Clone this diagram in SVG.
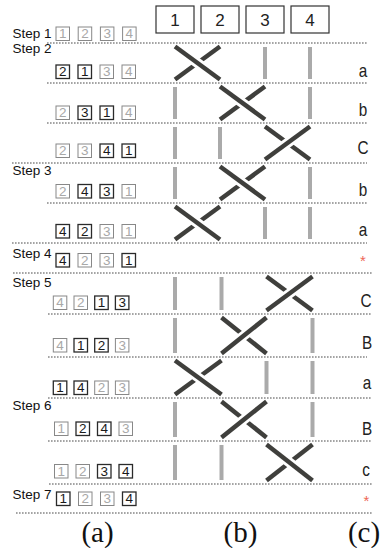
<svg xmlns="http://www.w3.org/2000/svg" width="385" height="548" viewBox="0 0 385 548">
<style>
text{font-family:"Liberation Sans",Arial,sans-serif}
.sep{stroke:#4a4a4a;stroke-width:1;stroke-dasharray:1.6 1.4;fill:none}
.hb{fill:#fff;stroke:#333;stroke-width:1.2}
.ht{font-size:17px;fill:#222;text-anchor:middle}
.step{font-size:13.5px;fill:#111}
.bk rect{fill:#fff;stroke:#2a2a2a;stroke-width:1.3}
.gy rect{fill:#fff;stroke:#888;stroke-width:1}
.bk text{fill:#1a1a1a}
.gy text{fill:#a8a8a8}
.seq text{font-size:13.5px;text-anchor:middle}
.g{stroke:#aaa;stroke-width:4;fill:none}
.d{stroke:#3f3f3c;stroke-width:4.5;fill:none}
.h{stroke:#fff;stroke-width:10;fill:none}
.lab{font-size:18px;fill:#222;text-anchor:middle}
.ast{font-size:15px;fill:#ee6655;text-anchor:middle}
.cap{font-family:"Liberation Serif","Times New Roman",serif;font-size:29px;fill:#111;text-anchor:middle}
</style>

<g id="separators">
<line class="sep" x1="47" y1="43" x2="367" y2="43"/>
<line class="sep" x1="47" y1="83" x2="367" y2="83"/>
<line class="sep" x1="47" y1="123" x2="367" y2="123"/>
<line class="sep" x1="12" y1="163" x2="367" y2="163"/>
<line class="sep" x1="47" y1="203" x2="367" y2="203"/>
<line class="sep" x1="12" y1="243" x2="367" y2="243"/>
<line class="sep" x1="13" y1="273" x2="372" y2="273"/>
<line class="sep" x1="48" y1="314" x2="372" y2="314"/>
<line class="sep" x1="48" y1="357" x2="367" y2="357"/>
<line class="sep" x1="48" y1="398" x2="372" y2="398"/>
<line class="sep" x1="48" y1="441" x2="372" y2="441"/>
<line class="sep" x1="49" y1="484" x2="372" y2="484"/>
<line class="sep" x1="16" y1="513" x2="373" y2="513"/>
</g>

<g id="header">
<g id="col1"><rect class="hb" x="156" y="6" width="38" height="27"/><text class="ht" x="175" y="26">1</text></g>
<g id="col2"><rect class="hb" x="201" y="6" width="38" height="27"/><text class="ht" x="220" y="26">2</text></g>
<g id="col3"><rect class="hb" x="246" y="6" width="38" height="27"/><text class="ht" x="265" y="26">3</text></g>
<g id="col4"><rect class="hb" x="291" y="6" width="38" height="27"/><text class="ht" x="310" y="26">4</text></g>
</g>

<g id="steps">
<text class="step" x="12.5" y="37.5">Step 1</text>
<text class="step" x="12.5" y="53">Step 2</text>
<text class="step" x="12.5" y="174.5">Step 3</text>
<text class="step" x="12.5" y="258">Step 4</text>
<text class="step" x="12.5" y="286.5">Step 5</text>
<text class="step" x="12.5" y="410">Step 6</text>
<text class="step" x="12.5" y="498.5">Step 7</text>
</g>

<g id="sequences" class="seq">
<g id="seq0" transform="translate(56,27)">
<g class="gy"><rect width="13.5" height="13.5"/><text x="6.75" y="11.2">1</text></g>
<g class="gy" transform="translate(22.2,0)"><rect width="13.5" height="13.5"/><text x="6.75" y="11.2">2</text></g>
<g class="gy" transform="translate(44.4,0)"><rect width="13.5" height="13.5"/><text x="6.75" y="11.2">3</text></g>
<g class="gy" transform="translate(66.6,0)"><rect width="13.5" height="13.5"/><text x="6.75" y="11.2">4</text></g>
</g>
<g id="seq1" transform="translate(56,65)">
<g class="bk"><rect width="13.5" height="13.5"/><text x="6.75" y="11.2">2</text></g>
<g class="bk" transform="translate(22,0)"><rect width="13.5" height="13.5"/><text x="6.75" y="11.2">1</text></g>
<g class="gy" transform="translate(44,0)"><rect width="13.5" height="13.5"/><text x="6.75" y="11.2">3</text></g>
<g class="gy" transform="translate(66,0)"><rect width="13.5" height="13.5"/><text x="6.75" y="11.2">4</text></g>
</g>
<g id="seq2" transform="translate(56,106)">
<g class="gy"><rect width="13.5" height="13.5"/><text x="6.75" y="11.2">2</text></g>
<g class="bk" transform="translate(22,0)"><rect width="13.5" height="13.5"/><text x="6.75" y="11.2">3</text></g>
<g class="bk" transform="translate(44,0)"><rect width="13.5" height="13.5"/><text x="6.75" y="11.2">1</text></g>
<g class="gy" transform="translate(66,0)"><rect width="13.5" height="13.5"/><text x="6.75" y="11.2">4</text></g>
</g>
<g id="seq3" transform="translate(56,144)">
<g class="gy"><rect width="13.5" height="13.5"/><text x="6.75" y="11.2">2</text></g>
<g class="gy" transform="translate(22,0)"><rect width="13.5" height="13.5"/><text x="6.75" y="11.2">3</text></g>
<g class="bk" transform="translate(44,0)"><rect width="13.5" height="13.5"/><text x="6.75" y="11.2">4</text></g>
<g class="bk" transform="translate(66,0)"><rect width="13.5" height="13.5"/><text x="6.75" y="11.2">1</text></g>
</g>
<g id="seq4" transform="translate(56,184.5)">
<g class="gy"><rect width="13.5" height="13.5"/><text x="6.75" y="11.2">2</text></g>
<g class="bk" transform="translate(22,0)"><rect width="13.5" height="13.5"/><text x="6.75" y="11.2">4</text></g>
<g class="bk" transform="translate(44,0)"><rect width="13.5" height="13.5"/><text x="6.75" y="11.2">3</text></g>
<g class="gy" transform="translate(66,0)"><rect width="13.5" height="13.5"/><text x="6.75" y="11.2">1</text></g>
</g>
<g id="seq5" transform="translate(56,224.5)">
<g class="bk"><rect width="13.5" height="13.5"/><text x="6.75" y="11.2">4</text></g>
<g class="bk" transform="translate(22,0)"><rect width="13.5" height="13.5"/><text x="6.75" y="11.2">2</text></g>
<g class="gy" transform="translate(44,0)"><rect width="13.5" height="13.5"/><text x="6.75" y="11.2">3</text></g>
<g class="gy" transform="translate(66,0)"><rect width="13.5" height="13.5"/><text x="6.75" y="11.2">1</text></g>
</g>
<g id="seq6" transform="translate(56,253.5)">
<g class="bk"><rect width="13.5" height="13.5"/><text x="6.75" y="11.2">4</text></g>
<g class="gy" transform="translate(22,0)"><rect width="13.5" height="13.5"/><text x="6.75" y="11.2">2</text></g>
<g class="gy" transform="translate(44,0)"><rect width="13.5" height="13.5"/><text x="6.75" y="11.2">3</text></g>
<g class="bk" transform="translate(66,0)"><rect width="13.5" height="13.5"/><text x="6.75" y="11.2">1</text></g>
</g>
<g id="seq7" transform="translate(53.3,296)">
<g class="gy"><rect width="13.5" height="13.5"/><text x="6.75" y="11.2">4</text></g>
<g class="gy" transform="translate(20.7,0)"><rect width="13.5" height="13.5"/><text x="6.75" y="11.2">2</text></g>
<g class="bk" transform="translate(41.4,0)"><rect width="13.5" height="13.5"/><text x="6.75" y="11.2">1</text></g>
<g class="bk" transform="translate(62.1,0)"><rect width="13.5" height="13.5"/><text x="6.75" y="11.2">3</text></g>
</g>
<g id="seq8" transform="translate(53.3,338.5)">
<g class="gy"><rect width="13.5" height="13.5"/><text x="6.75" y="11.2">4</text></g>
<g class="bk" transform="translate(20.7,0)"><rect width="13.5" height="13.5"/><text x="6.75" y="11.2">1</text></g>
<g class="bk" transform="translate(41.4,0)"><rect width="13.5" height="13.5"/><text x="6.75" y="11.2">2</text></g>
<g class="gy" transform="translate(62.1,0)"><rect width="13.5" height="13.5"/><text x="6.75" y="11.2">3</text></g>
</g>
<g id="seq9" transform="translate(53.3,381)">
<g class="bk"><rect width="13.5" height="13.5"/><text x="6.75" y="11.2">1</text></g>
<g class="bk" transform="translate(20.7,0)"><rect width="13.5" height="13.5"/><text x="6.75" y="11.2">4</text></g>
<g class="gy" transform="translate(41.4,0)"><rect width="13.5" height="13.5"/><text x="6.75" y="11.2">2</text></g>
<g class="gy" transform="translate(62.1,0)"><rect width="13.5" height="13.5"/><text x="6.75" y="11.2">3</text></g>
</g>
<g id="seq10" transform="translate(54.5,422)">
<g class="gy"><rect width="13.5" height="13.5"/><text x="6.75" y="11.2">1</text></g>
<g class="bk" transform="translate(21.5,0)"><rect width="13.5" height="13.5"/><text x="6.75" y="11.2">2</text></g>
<g class="bk" transform="translate(43,0)"><rect width="13.5" height="13.5"/><text x="6.75" y="11.2">4</text></g>
<g class="gy" transform="translate(64.5,0)"><rect width="13.5" height="13.5"/><text x="6.75" y="11.2">3</text></g>
</g>
<g id="seq11" transform="translate(54.5,464.5)">
<g class="gy"><rect width="13.5" height="13.5"/><text x="6.75" y="11.2">1</text></g>
<g class="gy" transform="translate(21.5,0)"><rect width="13.5" height="13.5"/><text x="6.75" y="11.2">2</text></g>
<g class="bk" transform="translate(43,0)"><rect width="13.5" height="13.5"/><text x="6.75" y="11.2">3</text></g>
<g class="bk" transform="translate(64.5,0)"><rect width="13.5" height="13.5"/><text x="6.75" y="11.2">4</text></g>
</g>
<g id="seq12" transform="translate(56.5,492)">
<g class="bk"><rect width="13.5" height="13.5"/><text x="6.75" y="11.2">1</text></g>
<g class="gy" transform="translate(22,0)"><rect width="13.5" height="13.5"/><text x="6.75" y="11.2">2</text></g>
<g class="gy" transform="translate(44,0)"><rect width="13.5" height="13.5"/><text x="6.75" y="11.2">3</text></g>
<g class="bk" transform="translate(66,0)"><rect width="13.5" height="13.5"/><text x="6.75" y="11.2">4</text></g>
</g>
</g>

<g id="connectors">
<g id="swap1">
<line class="g" x1="265" y1="47" x2="265" y2="79"/><line class="g" x1="310" y1="47" x2="310" y2="79"/>
<line class="d" x1="175" y1="79.5" x2="220" y2="46.5"/>
<line class="h" x1="188.5" y1="56.4" x2="206.5" y2="69.6"/>
<line class="d" x1="175" y1="46.5" x2="220" y2="79.5"/>
</g>
<g id="swap2">
<line class="g" x1="175" y1="87" x2="175" y2="119"/><line class="g" x1="310" y1="87" x2="310" y2="119"/>
<line class="d" x1="220" y1="119.5" x2="265" y2="86.5"/>
<line class="h" x1="233.5" y1="96.4" x2="251.5" y2="109.6"/>
<line class="d" x1="220" y1="86.5" x2="265" y2="119.5"/>
</g>
<g id="swap3">
<line class="g" x1="175" y1="127" x2="175" y2="159"/><line class="g" x1="220" y1="127" x2="220" y2="159"/>
<line class="d" x1="265" y1="126.5" x2="310" y2="159.5"/>
<line class="h" x1="278.5" y1="149.6" x2="296.5" y2="136.4"/>
<line class="d" x1="265" y1="159.5" x2="310" y2="126.5"/>
</g>
<g id="swap4">
<line class="g" x1="175" y1="167" x2="175" y2="199"/><line class="g" x1="310" y1="167" x2="310" y2="199"/>
<line class="d" x1="220" y1="199.5" x2="265" y2="166.5"/>
<line class="h" x1="233.5" y1="176.4" x2="251.5" y2="189.6"/>
<line class="d" x1="220" y1="166.5" x2="265" y2="199.5"/>
</g>
<g id="swap5">
<line class="g" x1="265" y1="207" x2="265" y2="239"/><line class="g" x1="310" y1="207" x2="310" y2="239"/>
<line class="d" x1="175" y1="239.5" x2="220" y2="206.5"/>
<line class="h" x1="188.5" y1="216.4" x2="206.5" y2="229.6"/>
<line class="d" x1="175" y1="206.5" x2="220" y2="239.5"/>
</g>
<g id="swap6">
<line class="g" x1="175" y1="277" x2="175" y2="310"/><line class="g" x1="221.5" y1="277" x2="221.5" y2="310"/>
<line class="d" x1="266.5" y1="276.5" x2="312.5" y2="310.5"/>
<line class="h" x1="280.3" y1="300.3" x2="298.7" y2="286.7"/>
<line class="d" x1="266.5" y1="310.5" x2="312.5" y2="276.5"/>
</g>
<g id="swap7">
<line class="g" x1="175" y1="318" x2="175" y2="353"/><line class="g" x1="312.5" y1="318" x2="312.5" y2="353"/>
<line class="d" x1="221.5" y1="317.5" x2="266.5" y2="353.5"/>
<line class="h" x1="235" y1="342.7" x2="253" y2="328.3"/>
<line class="d" x1="221.5" y1="353.5" x2="266.5" y2="317.5"/>
</g>
<g id="swap8">
<line class="g" x1="266.5" y1="361" x2="266.5" y2="394"/><line class="g" x1="312.5" y1="361" x2="312.5" y2="394"/>
<line class="d" x1="175" y1="394.5" x2="221.5" y2="360.5"/>
<line class="h" x1="188.95" y1="370.7" x2="207.55" y2="384.3"/>
<line class="d" x1="175" y1="360.5" x2="221.5" y2="394.5"/>
</g>
<g id="swap9">
<line class="g" x1="175" y1="402" x2="175" y2="437"/><line class="g" x1="312.5" y1="402" x2="312.5" y2="437"/>
<line class="d" x1="221.5" y1="401.5" x2="266.5" y2="437.5"/>
<line class="h" x1="235" y1="426.7" x2="253" y2="412.3"/>
<line class="d" x1="221.5" y1="437.5" x2="266.5" y2="401.5"/>
</g>
<g id="swap10">
<line class="g" x1="175" y1="445" x2="175" y2="480"/><line class="g" x1="221.5" y1="445" x2="221.5" y2="480"/>
<line class="d" x1="266.5" y1="480.5" x2="312.5" y2="444.5"/>
<line class="h" x1="280.3" y1="455.3" x2="298.7" y2="469.7"/>
<line class="d" x1="266.5" y1="444.5" x2="312.5" y2="480.5"/>
</g>
</g>

<g id="labels">
<text class="lab" transform="translate(363,76.5) scale(0.85,1)">a</text>
<text class="lab" transform="translate(363,116) scale(0.85,1)">b</text>
<text class="lab" transform="translate(363,154) scale(0.85,1)">C</text>
<text class="lab" transform="translate(363,196) scale(0.85,1)">b</text>
<text class="lab" transform="translate(363,236) scale(0.85,1)">a</text>
<text class="ast" x="363" y="265.5">*</text>
<text class="lab" transform="translate(366,306.5) scale(0.85,1)">C</text>
<text class="lab" transform="translate(367,348.5) scale(0.85,1)">B</text>
<text class="lab" transform="translate(367,388.5) scale(0.85,1)">a</text>
<text class="lab" transform="translate(367,435) scale(0.85,1)">B</text>
<text class="lab" transform="translate(366,476) scale(0.85,1)">c</text>
<text class="ast" x="366.5" y="505.5">*</text>
</g>

<g id="captions">
<text class="cap" x="97.5" y="542">(a)</text>
<text class="cap" x="240.5" y="542">(b)</text>
<text class="cap" x="364" y="542">(c)</text>
</g>
</svg>
